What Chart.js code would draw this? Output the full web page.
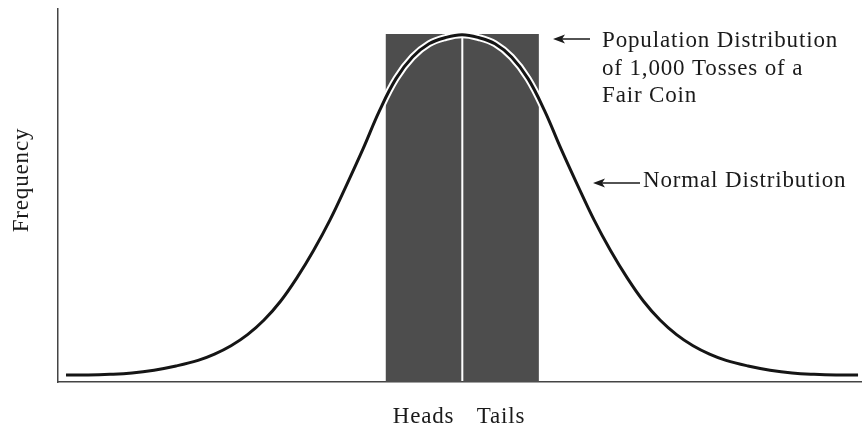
<!DOCTYPE html>
<html lang="en">
<head>
  <meta charset="UTF-8" />
  <title>Coin Tosses and the Normal Distribution</title>
  <script src="https://cdn.jsdelivr.net/npm/chart.js"></script>
  <style>
    html, body { margin: 0; padding: 0; background: #fff; }
    canvas { display: block; }
  </style>
</head>
<body>
  <canvas id="coinChart" width="862" height="427"></canvas>

  <script>
    // two outcomes of a fair coin, out of 1,000 tosses
    const outcomes = ["Heads", "Tails"];
    const outcomeCenters = [-0.35, 0.355];   // bar centres, in SD units
    const outcomeCounts = [500, 500];

    // normal curve, traced point by point (x in SD units, y in frequency units)
    const curveX = [-3.6, -3.4, -3.2, -3.0, -2.8, -2.6, -2.4, -2.25, -2.1, -1.95, -1.8, -1.65, -1.5, -1.35, -1.2,
                    -1.05, -0.9, -0.75, -0.6, -0.45, -0.3, -0.15, 0,
                    0.15, 0.3, 0.45, 0.6, 0.75, 0.9, 1.05, 1.2, 1.35, 1.5, 1.65, 1.8, 1.95, 2.1, 2.25, 2.4,
                    2.6, 2.8, 3.0, 3.2, 3.4, 3.6];
    const curveY = [10, 10, 11, 13, 17, 23, 31, 40, 52, 68, 89, 116, 150, 189, 233,
                    283, 335, 390, 436, 467, 486, 495, 499,
                    495, 486, 467, 436, 390, 335, 283, 233, 189, 150, 116, 89, 68, 52, 40, 31,
                    23, 17, 13, 11, 10, 10];

    const popLabel = ["Population Distribution", "of 1,000 Tosses of a", "Fair Coin"];
    const normalLabel = "Normal Distribution";
    const yTitle = "Frequency";

    const FONT = "23px 'Liberation Serif', serif";
    const SPACING = "0.85px";
    const INK = "#1a1a1a";
    const AXIS = "#444444";

    const curvePoints = curveX.map((x, i) => ({ x, y: curveY[i] }));
    const barPoints = outcomeCenters.map((x, i) => ({ x, y: outcomeCounts[i] }));

    function arrow(ctx, from, tip, y) {
      ctx.lineWidth = 1.5;
      ctx.beginPath();
      ctx.moveTo(from, y);
      ctx.lineTo(tip + 8, y);
      ctx.stroke();
      ctx.beginPath();
      ctx.moveTo(tip, y);
      ctx.lineTo(tip + 12, y - 4.5);
      ctx.lineTo(tip + 9, y);
      ctx.lineTo(tip + 12, y + 4.5);
      ctx.closePath();
      ctx.fill();
    }

    // labels, arrows and the rotated y title
    const notes = {
      id: "notes",
      beforeDraw(chart) {
        chart.ctx.letterSpacing = SPACING;
      },
      afterDraw(chart) {
        const ctx = chart.ctx;
        ctx.save();
        ctx.fillStyle = INK;
        ctx.strokeStyle = INK;
        ctx.font = FONT;
        ctx.letterSpacing = SPACING;
        ctx.textAlign = "left";
        ctx.textBaseline = "alphabetic";
        popLabel.forEach((t, i) => ctx.fillText(t, 602, 47 + i * 27.5));
        ctx.fillText(normalLabel, 643, 187);
        arrow(ctx, 590, 553, 39);
        arrow(ctx, 640, 593, 183);

        ctx.translate(27.5, 180);
        ctx.rotate(-Math.PI / 2);
        ctx.textAlign = "center";
        ctx.fillText(yTitle, 0, 0);
        ctx.restore();
      }
    };

    const curveStyle = { type: "line", data: curvePoints, pointRadius: 0, tension: 0.4, fill: false };

    new Chart(document.getElementById("coinChart"), {
      type: "bar",
      data: {
        datasets: [
          {
            type: "bar",
            data: barPoints,
            backgroundColor: "#4d4d4d",
            borderWidth: 0,
            barPercentage: 0.974,
            categoryPercentage: 1,
            order: 3
          },
          // white halo under the curve, visible where it crosses the bars
          { ...curveStyle, borderColor: "#ffffff", borderWidth: 7, order: 2 },
          { ...curveStyle, borderColor: "#151515", borderWidth: 3, order: 1 }
        ]
      },
      options: {
        responsive: false,
        animation: false,
        layout: { padding: { top: 9, right: 0, bottom: 0, left: 0 } },
        plugins: { legend: { display: false }, tooltip: { enabled: false } },
        scales: {
          x: {
            type: "linear",
            min: -3.673,
            max: 3.636,
            offset: false,
            grid: { display: false, drawTicks: false },
            border: { display: true, color: AXIS, width: 1.5 },
            afterBuildTicks: scale => {
              scale.ticks = outcomeCenters.map(v => ({ value: v }));
            },
            afterFit: scale => { scale.height = 45; },
            ticks: {
              autoSkip: false,
              maxRotation: 0,
              padding: 21,
              color: INK,
              font: { family: "'Liberation Serif', serif", size: 23 },
              callback: (value, index) => outcomes[index]
            }
          },
          y: {
            min: 0,
            max: 536,
            grid: { display: false, drawTicks: false },
            border: { display: true, color: AXIS, width: 1.5 },
            ticks: { display: false },
            afterFit: scale => { scale.width = 58; }
          }
        }
      },
      plugins: [notes]
    });
  </script>
</body>
</html>
